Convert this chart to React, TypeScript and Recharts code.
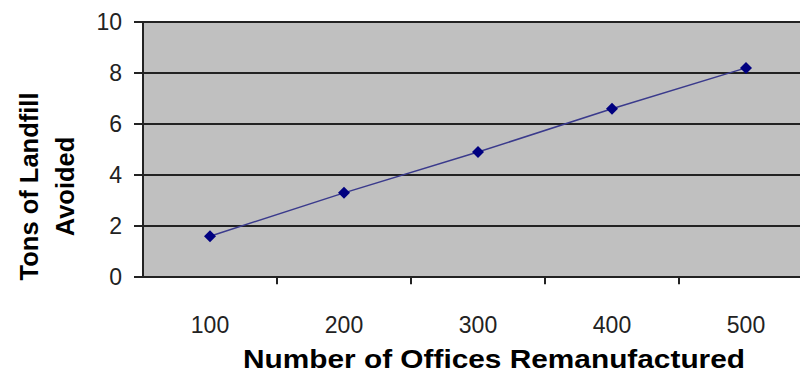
import { LineChart, Line, XAxis, YAxis, CartesianGrid, ReferenceLine } from "recharts";

const offices = [100, 200, 300, 400, 500];
const tons = [1.6, 3.3, 4.9, 6.6, 8.2];
const yTicks = [0, 2, 4, 6, 8, 10];
const dividerTicks = [150, 250, 350, 450, 550];

const data = offices.map((o, i) => ({ offices: o, tons: tons[i] }));

const font = "'Liberation Sans', Arial, sans-serif";

const YTitle = (props: any) => {
  const vb = props.viewBox || {};
  const cy = vb.y + vb.height / 2 + 37;
  return (
    <g fontFamily={font} fontWeight="bold" fontSize={25.5} fill="#000">
      <text x={38} y={cy} textAnchor="middle" transform={`rotate(-90 38 ${cy})`}>
        Tons of Landfill
      </text>
      <text x={74} y={cy} textAnchor="middle" transform={`rotate(-90 74 ${cy})`}>
        Avoided
      </text>
    </g>
  );
};

const XTitle = () => (
  <text
    x={494}
    y={368}
    textAnchor="middle"
    fontFamily={font}
    fontWeight="bold"
    fontSize={26}
    fill="#000"
    textLength={502}
    lengthAdjust="spacingAndGlyphs"
  >
    Number of Offices Remanufactured
  </text>
);

const App = () => {
  return (
    <div style={{ position: "absolute", left: 0, top: 0, width: 800, height: 374, overflow: "hidden", background: "#fff" }}>
      <LineChart width={820} height={374} data={data} margin={{ top: 22, right: 7, bottom: 0, left: 0 }}>
        <CartesianGrid vertical={false} stroke="#222" strokeWidth={2} fill="#c0c0c0" fillOpacity={1} />
        <XAxis
          dataKey="offices"
          type="number"
          domain={[50, 550]}
          ticks={offices}
          tickLine={false}
          axisLine={false}
          tickSize={0}
          tickMargin={40}
          height={97}
          tick={{ fontSize: 23, fill: "#222", fontFamily: font }}
          label={<XTitle />}
        />
        <YAxis
          domain={[0, 10]}
          ticks={yTicks}
          width={143}
          tickSize={9}
          tickMargin={12}
          stroke="#222"
          strokeWidth={2}
          tick={{ fontSize: 23, fill: "#222", fontFamily: font }}
          label={<YTitle />}
        />
        {dividerTicks.map((t) => (
          <ReferenceLine
            key={t}
            segment={[
              { x: t, y: 0 },
              { x: t, y: -0.28 },
            ]}
            stroke="#222"
            strokeWidth={2}
            ifOverflow="visible"
          />
        ))}
        <Line
          dataKey="tons"
          stroke="#3a3a8c"
          strokeWidth={1.5}
          isAnimationActive={false}
          dot={(p: any) => (
            <path
              key={p.index}
              d={`M${p.cx} ${p.cy - 6}L${p.cx + 6} ${p.cy}L${p.cx} ${p.cy + 6}L${p.cx - 6} ${p.cy}Z`}
              fill="#000080"
            />
          )}
        />
      </LineChart>
    </div>
  );
};

export default App;
